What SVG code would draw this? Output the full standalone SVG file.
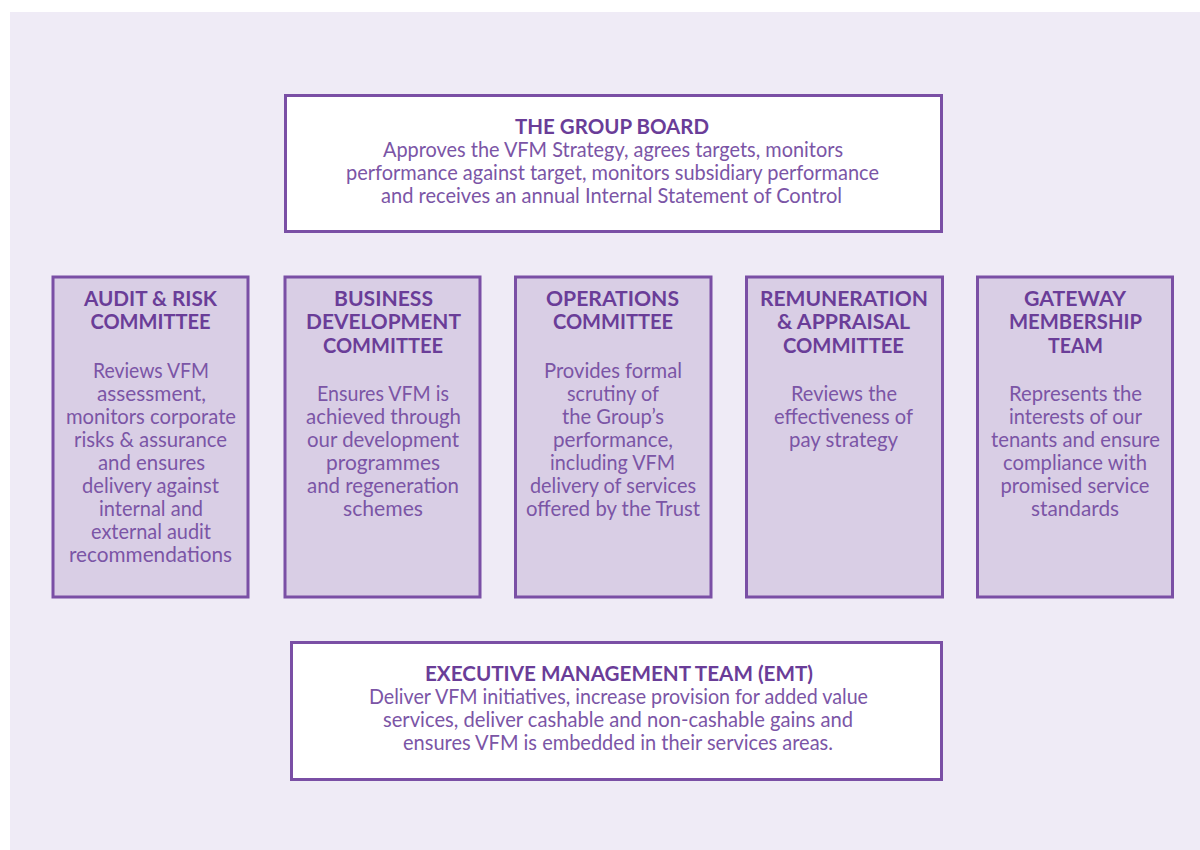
<svg xmlns="http://www.w3.org/2000/svg" width="1200" height="850" viewBox="0 0 1200 850">
  <style>
    .panel { fill: #efebf6; }
    .box { stroke: #7a4fa5; stroke-width: 3; }
    .white { fill: #ffffff; }
    .lilac { fill: #d9cee5; }
    text { font-family: Lato, "Open Sans", "Liberation Sans", sans-serif; font-size: 21px; text-anchor: middle; }
    .h { font-weight: 700; fill: #6a3d98; }
    .b { font-weight: 400; fill: #7b55a6; }
  </style>

  <rect width="1200" height="850" fill="#ffffff"/>
  <rect class="panel" x="10" y="12" width="1190" height="838"/>

  <g id="connectors"/>

  <!-- Group Board -->
  <g id="group-board">
    <rect class="box white" x="285.5" y="95.5" width="656" height="136"/>
    <text class="h" x="612" y="134" textLength="194" lengthAdjust="spacingAndGlyphs">THE GROUP BOARD</text>
    <text class="b" x="613" y="157" textLength="460" lengthAdjust="spacingAndGlyphs">Approves the VFM Strategy, agrees targets, monitors</text>
    <text class="b" x="612.5" y="180" textLength="533" lengthAdjust="spacingAndGlyphs">performance against target, monitors subsidiary performance</text>
    <text class="b" x="611.5" y="203" textLength="461" lengthAdjust="spacingAndGlyphs">and receives an annual Internal Statement of Control</text>
  </g>

  <!-- Audit & Risk Committee -->
  <g id="audit-risk">
    <rect class="box lilac" x="53" y="277" width="195" height="320"/>
    <text class="h" x="150.5" y="306" textLength="133" lengthAdjust="spacingAndGlyphs">AUDIT &amp; RISK</text>
    <text class="h" x="150.5" y="329" textLength="120" lengthAdjust="spacingAndGlyphs">COMMITTEE</text>
    <text class="b" x="151" y="378" textLength="116" lengthAdjust="spacingAndGlyphs">Reviews VFM</text>
    <text class="b" x="151.5" y="401" textLength="109" lengthAdjust="spacingAndGlyphs">assessment,</text>
    <text class="b" x="151" y="424" textLength="170" lengthAdjust="spacingAndGlyphs">monitors corporate</text>
    <text class="b" x="150.5" y="447" textLength="153" lengthAdjust="spacingAndGlyphs">risks &amp; assurance</text>
    <text class="b" x="151.5" y="470" textLength="107" lengthAdjust="spacingAndGlyphs">and ensures</text>
    <text class="b" x="150.5" y="493" textLength="137" lengthAdjust="spacingAndGlyphs">delivery against</text>
    <text class="b" x="151" y="516" textLength="104" lengthAdjust="spacingAndGlyphs">internal and</text>
    <text class="b" x="151" y="539" textLength="120" lengthAdjust="spacingAndGlyphs">external audit</text>
    <text class="b" x="150.5" y="562" textLength="163" lengthAdjust="spacingAndGlyphs">recommendations</text>
  </g>

  <!-- Business Development Committee -->
  <g id="business-development">
    <rect class="box lilac" x="285" y="277" width="195" height="320"/>
    <text class="h" x="383.5" y="306" textLength="99" lengthAdjust="spacingAndGlyphs">BUSINESS</text>
    <text class="h" x="383.5" y="329" textLength="155" lengthAdjust="spacingAndGlyphs">DEVELOPMENT</text>
    <text class="h" x="383" y="352.5" textLength="120" lengthAdjust="spacingAndGlyphs">COMMITTEE</text>
    <text class="b" x="383" y="401" textLength="132" lengthAdjust="spacingAndGlyphs">Ensures VFM is</text>
    <text class="b" x="383.5" y="424" textLength="155" lengthAdjust="spacingAndGlyphs">achieved through</text>
    <text class="b" x="383" y="447" textLength="152" lengthAdjust="spacingAndGlyphs">our development</text>
    <text class="b" x="383" y="470" textLength="114" lengthAdjust="spacingAndGlyphs">programmes</text>
    <text class="b" x="383" y="493" textLength="152" lengthAdjust="spacingAndGlyphs">and regeneration</text>
    <text class="b" x="383" y="516" textLength="80" lengthAdjust="spacingAndGlyphs">schemes</text>
  </g>

  <!-- Operations Committee -->
  <g id="operations">
    <rect class="box lilac" x="515.5" y="277" width="195.5" height="320"/>
    <text class="h" x="612.5" y="306" textLength="133" lengthAdjust="spacingAndGlyphs">OPERATIONS</text>
    <text class="h" x="613" y="329" textLength="120" lengthAdjust="spacingAndGlyphs">COMMITTEE</text>
    <text class="b" x="613" y="378" textLength="138" lengthAdjust="spacingAndGlyphs">Provides formal</text>
    <text class="b" x="613" y="401" textLength="92" lengthAdjust="spacingAndGlyphs">scrutiny of</text>
    <text class="b" x="613" y="424" textLength="102" lengthAdjust="spacingAndGlyphs">the Group’s</text>
    <text class="b" x="613" y="447" textLength="120" lengthAdjust="spacingAndGlyphs">performance,</text>
    <text class="b" x="612.5" y="470" textLength="125" lengthAdjust="spacingAndGlyphs">including VFM</text>
    <text class="b" x="613" y="493" textLength="166" lengthAdjust="spacingAndGlyphs">delivery of services</text>
    <text class="b" x="613" y="516" textLength="174" lengthAdjust="spacingAndGlyphs">offered by the Trust</text>
  </g>

  <!-- Remuneration & Appraisal Committee -->
  <g id="remuneration-appraisal">
    <rect class="box lilac" x="746.5" y="277" width="196" height="320"/>
    <text class="h" x="844" y="306" textLength="168" lengthAdjust="spacingAndGlyphs">REMUNERATION</text>
    <text class="h" x="843.5" y="329" textLength="133" lengthAdjust="spacingAndGlyphs">&amp; APPRAISAL</text>
    <text class="h" x="843.5" y="352.5" textLength="121" lengthAdjust="spacingAndGlyphs">COMMITTEE</text>
    <text class="b" x="844" y="401" textLength="106" lengthAdjust="spacingAndGlyphs">Reviews the</text>
    <text class="b" x="843.5" y="424" textLength="139" lengthAdjust="spacingAndGlyphs">effectiveness of</text>
    <text class="b" x="843.5" y="447" textLength="109" lengthAdjust="spacingAndGlyphs">pay strategy</text>
  </g>

  <!-- Gateway Membership Team -->
  <g id="gateway-membership">
    <rect class="box lilac" x="977.5" y="277" width="195" height="320"/>
    <text class="h" x="1075" y="306" textLength="102" lengthAdjust="spacingAndGlyphs">GATEWAY</text>
    <text class="h" x="1075.5" y="329" textLength="133" lengthAdjust="spacingAndGlyphs">MEMBERSHIP</text>
    <text class="h" x="1075.5" y="352.5" textLength="55" lengthAdjust="spacingAndGlyphs">TEAM</text>
    <text class="b" x="1075.5" y="401" textLength="133" lengthAdjust="spacingAndGlyphs">Represents the</text>
    <text class="b" x="1075.5" y="424" textLength="133" lengthAdjust="spacingAndGlyphs">interests of our</text>
    <text class="b" x="1075.5" y="447" textLength="169" lengthAdjust="spacingAndGlyphs">tenants and ensure</text>
    <text class="b" x="1075" y="470" textLength="144" lengthAdjust="spacingAndGlyphs">compliance with</text>
    <text class="b" x="1075" y="493" textLength="149" lengthAdjust="spacingAndGlyphs">promised service</text>
    <text class="b" x="1075" y="516" textLength="88" lengthAdjust="spacingAndGlyphs">standards</text>
  </g>

  <!-- Executive Management Team -->
  <g id="executive-management">
    <rect class="box white" x="291.5" y="642.5" width="650" height="137"/>
    <text class="h" x="619" y="681" textLength="388" lengthAdjust="spacingAndGlyphs">EXECUTIVE MANAGEMENT TEAM (EMT)</text>
    <text class="b" x="618.5" y="704" textLength="499" lengthAdjust="spacingAndGlyphs">Deliver VFM initiatives, increase provision for added value</text>
    <text class="b" x="618" y="727" textLength="470" lengthAdjust="spacingAndGlyphs">services, deliver cashable and non-cashable gains and</text>
    <text class="b" x="618" y="750" textLength="430" lengthAdjust="spacingAndGlyphs">ensures VFM is embedded in their services areas.</text>
  </g>
</svg>
